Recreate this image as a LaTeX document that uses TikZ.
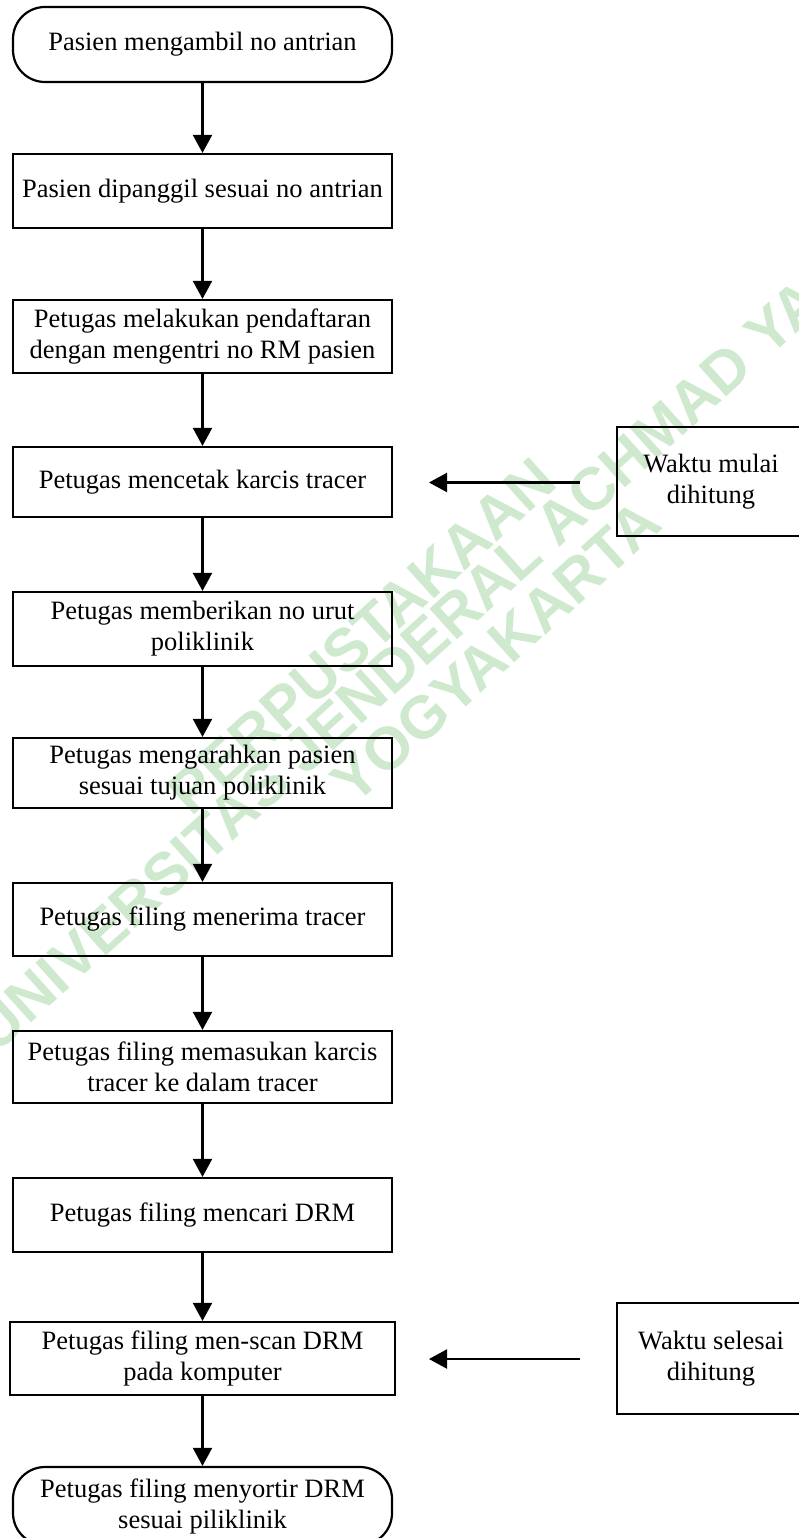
\documentclass[tikz,border=0pt]{standalone}
\usepackage{fontspec}
\setmainfont{Liberation Serif}
\newfontfamily\wmfont{Liberation Sans}
\usetikzlibrary{arrows.meta}
\definecolor{wmgreen}{RGB}{206,233,206}
\tikzset{
  proc/.style={draw, line width=2.2pt, minimum width=379pt, minimum height=73pt, align=center, inner sep=0pt,
    font=\fontsize{26.5}{31}\selectfont},
  term/.style={proc, rounded corners=32pt},
  note/.style={draw, line width=2.2pt, minimum width=188pt, minimum height=109pt, align=center, inner sep=0pt,
    font=\fontsize{26.5}{31}\selectfont},
  flow/.style={line width=2.2pt, -{Triangle[width=19pt,length=18pt]}},
  wm/.style={text=wmgreen, font=\wmfont\bfseries\fontsize{60}{66}\selectfont, inner sep=0pt, rotate=42}
}
\begin{document}
\begin{tikzpicture}[x=1pt,y=-1pt]
\useasboundingbox (0,0) rectangle (798,1538);
% watermark
\node[wm] (wm1) at (362,636) {PERPUSTAKAAN};
\node[wm] (wm2) at (420,645) {UNIVERSITAS JENDERAL ACHMAD YANI};
\node[wm] (wm3) at (496,652) {YOGYAKARTA};
% main column
\node[term, minimum height=75pt] (b1) at (202.5,44.5) {Pasien mengambil no antrian};
\node[proc, minimum height=74pt] (b2) at (202.5,191) {Pasien dipanggil sesuai no antrian};
\node[proc] (b3) at (202.5,336.5) {Petugas melakukan pendaftaran\\dengan mengentri no RM pasien};
\node[proc, minimum height=70pt] (b4) at (202.5,482) {Petugas mencetak karcis tracer};
\node[proc, minimum height=74pt] (b5) at (202.5,629) {Petugas memberikan no urut\\poliklinik};
\node[proc, minimum height=70pt] (b6) at (202.5,773) {Petugas mengarahkan pasien\\sesuai tujuan poliklinik};
\node[proc] (b7) at (202.5,919.5) {Petugas filing menerima tracer};
\node[proc, minimum height=72pt] (b8) at (202.5,1067) {Petugas filing memasukan karcis\\tracer ke dalam tracer};
\node[proc, minimum height=74pt] (b9) at (202.5,1215) {Petugas filing mencari DRM};
\node[proc, minimum width=385pt] (b10) at (202.5,1358.5) {Petugas filing men-scan DRM\\pada komputer};
\node[term, minimum height=78pt] (b11) at (202.5,1506) {Petugas filing menyortir DRM\\sesuai piliklinik};
% side notes
\node[note] (r1) at (711,481.5) {Waktu mulai\\dihitung};
\node[note, minimum height=111pt] (r2) at (711,1358.5) {Waktu selesai\\dihitung};
\coordinate (s1) at (580,482.5);
\coordinate (e1) at (429,482.5);
\coordinate (s2) at (580,1359);
\coordinate (e2) at (429,1359);
% connectors
\draw[flow] (b1) -- (b2);
\draw[flow] (b2) -- (b3);
\draw[flow] (b3) -- (b4);
\draw[flow] (b4) -- (b5);
\draw[flow] (b5) -- (b6);
\draw[flow] (b6) -- (b7);
\draw[flow] (b7) -- (b8);
\draw[flow] (b8) -- (b9);
\draw[flow] (b9) -- (b10);
\draw[flow] (b10) -- (b11);
\draw[flow] (s1) -- (e1);
\draw[flow] (s2) -- (e2);
\end{tikzpicture}
\end{document}
